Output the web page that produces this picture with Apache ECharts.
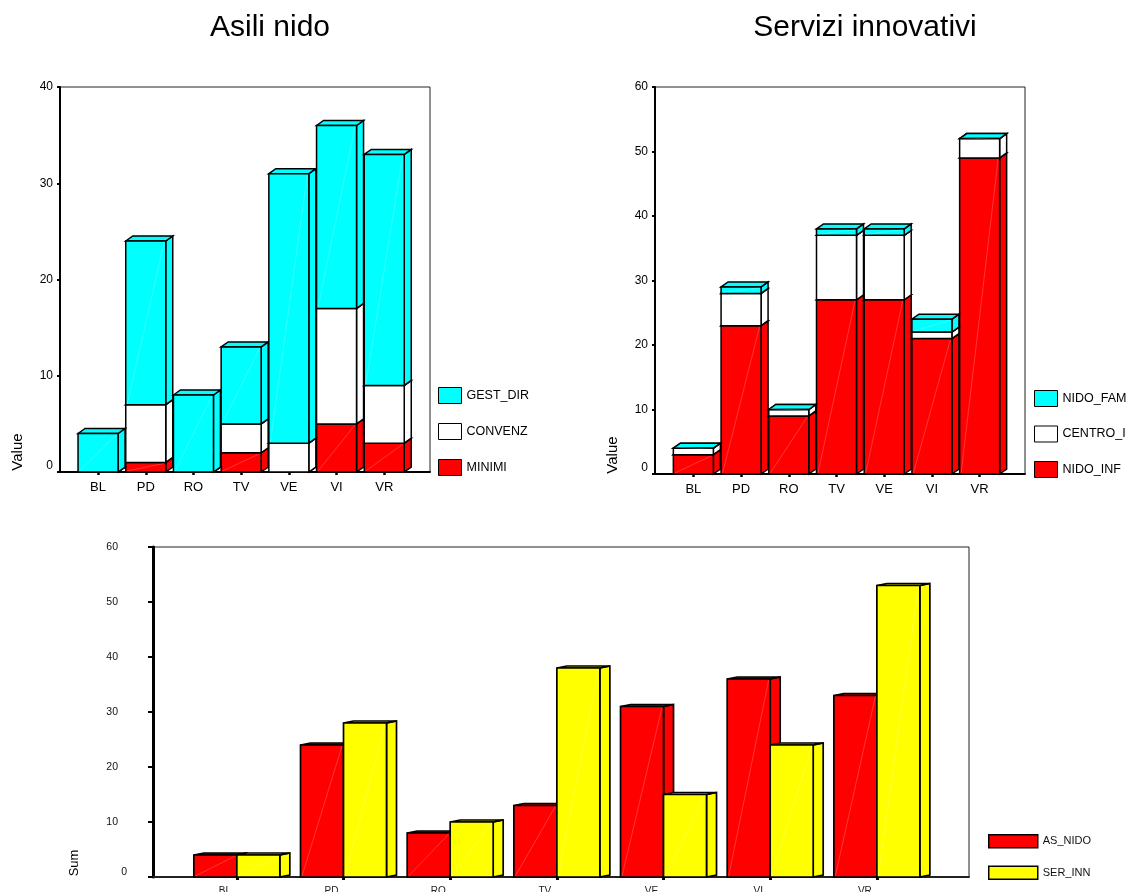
<!DOCTYPE html>
<html>
<head>
<meta charset="utf-8">
<script src="https://cdn.jsdelivr.net/npm/echarts@6/dist/echarts.min.js"></script>
<style>
html,body{margin:0;padding:0;background:#fff;}
#chart{width:1128px;height:892px;}
</style>
</head>
<body>
<div id="chart"></div>
<script>
// ---- data ----
const categories = ['BL', 'PD', 'RO', 'TV', 'VE', 'VI', 'VR'];

// Asili nido (stacked)
const asiliMinimi   = [0, 1, 0, 2, 0, 5, 3];
const asiliConvenz  = [0, 6, 0, 3, 3, 12, 6];
const asiliGestDir  = [4, 17, 8, 8, 28, 19, 24];

// Servizi innovativi (stacked)
const servNidoInf   = [3, 23, 9, 27, 27, 21, 49];
const servCentroI   = [1, 5, 1, 10, 10, 1, 3];
const servNidoFam   = [0, 1, 0, 1, 1, 2, 0];

// Sum chart (grouped)
const sumAsNido     = [4, 24, 8, 13, 31, 36, 33];
const sumSerInn     = [4, 28, 10, 38, 15, 24, 53];

const topTicks1 = [0, 10, 20, 30, 40];
const topTicks2 = [0, 10, 20, 30, 40, 50, 60];

// ---- helpers ----
const FONT = "'Liberation Sans', Arial, Helvetica, sans-serif";

function stackLayers(layers) {
  const base = categories.map(() => 0);
  return layers.map(layer => layer.map((v, i) => {
    const item = [i, base[i], base[i] + v];
    base[i] += v;
    return item;
  }));
}

function make3D(o) {
  return function (params, api) {
    const ci = api.value(0), b = api.value(1), t = api.value(2);
    const pb = api.coord([ci, b]), pt = api.coord([ci, t]);
    const cx = pb[0] + o.off;
    const xl = cx - o.w / 2, xr = cx + o.w / 2;
    const yb = pb[1], yt = pt[1];
    const color = api.visual('color');
    const st = () => ({ fill: color, stroke: '#000', lineWidth: o.lw, lineJoin: 'miter' });
    return {
      type: 'group',
      children: [
        { type: 'polygon', shape: { points: [[xr, yb], [xr + o.dx, yb - o.dy], [xr + o.dx, yt - o.dy], [xr, yt]] }, style: st() },
        { type: 'polygon', shape: { points: [[xl, yt], [xl + o.dx, yt - o.dy], [xr + o.dx, yt - o.dy], [xr, yt]] }, style: st() },
        { type: 'rect', shape: { x: xl, y: yt, width: o.w, height: yb - yt }, style: st() },
        { type: 'line', silent: true, shape: { x1: xl + 1.5, y1: yb - 1, x2: xr - 1.5, y2: yt + 1 },
          style: { stroke: 'rgba(255,255,255,0.3)', lineWidth: 0.7 } }
      ]
    };
  };
}

function frameX(gi) {
  return { gridIndex: gi, type: 'value', min: 0, max: 1,
    axisLine: { show: true, lineStyle: { color: '#000', width: 2 } },
    axisTick: { show: false }, axisLabel: { show: false }, splitLine: { show: false } };
}
function catX(gi, fs, margin, extra) {
  return Object.assign({ gridIndex: gi, type: 'category', data: categories, boundaryGap: true,
    axisLine: { show: false },
    axisTick: { show: true, alignWithLabel: true, length: 3, lineStyle: { color: '#000', width: 2.5 } },
    axisLabel: { fontSize: fs, margin: margin, color: '#000', fontFamily: FONT, interval: 0 },
    splitLine: { show: false } }, extra || {});
}
function valY(gi, max, ticks, lab, lineW, tickLen) {
  return { gridIndex: gi, type: 'value', min: 0, max: max, interval: ticks[1] - ticks[0],
    axisLine: { show: true, lineStyle: { color: '#000', width: lineW } },
    axisTick: { show: true, length: tickLen, lineStyle: { color: '#000', width: 2 } },
    axisLabel: lab, splitLine: { show: false } };
}
function hidY(gi, max) {
  return { gridIndex: gi, type: 'value', min: 0, max: max, show: false, splitLine: { show: false } };
}

const tl = stackLayers([asiliMinimi, asiliConvenz, asiliGestDir]);
const tr = stackLayers([servNidoInf, servCentroI, servNidoFam]);

const topOpt = { dx: 7, dy: 5, w: 40, off: 0, lw: 1.5 };
const botOptA = { dx: 10, dy: 2, w: 43, off: -21.5, lw: 1.7 };
const botOptB = { dx: 10, dy: 2, w: 43, off: 21.5, lw: 1.7 };

const CYAN = '#00FFFF', WHITE = '#FFFFFF', RED = '#FF0000', YELLOW = '#FFFF00';

function cust(name, xi, color, data, opt) {
  return { type: 'custom', name: name, xAxisIndex: xi, yAxisIndex: xi,
    itemStyle: { color: color, borderColor: '#000', borderWidth: 1 },
    encode: { x: 0, y: [1, 2] }, data: data, renderItem: make3D(opt), silent: true };
}

const topLabel = {
  fontSize: 12, color: '#000', margin: 7, fontFamily: FONT,
  formatter: v => v === 0 ? '{z|0}' : String(v),
  rich: { z: { fontSize: 12, fontFamily: FONT, color: '#000', padding: [0, 0, 12, 0] } }
};
const botLabel = {
  fontSize: 10.5, color: '#111', margin: 26, fontFamily: FONT,
  formatter: v => v === 0 ? '{z|0}' : '{a|' + v + '}',
  rich: {
    z: { fontSize: 10.5, fontFamily: FONT, color: '#111', padding: [0, 0, 10, 0] },
    a: { fontSize: 10.5, fontFamily: FONT, color: '#111', padding: [0, 9, 0, 0] }
  }
};

const frameGrid = { show: true, borderColor: '#222', borderWidth: 1, backgroundColor: 'transparent', outerBoundsMode: 'none', containLabel: false };
const plainGrid = { outerBoundsMode: 'none', containLabel: false };

const option = {
  animation: false,
  backgroundColor: '#fff',
  textStyle: { fontFamily: FONT },
  grid: [
    Object.assign({ left: 60, top: 87, width: 370, height: 385 }, frameGrid),
    Object.assign({ left: 74.2, top: 87, width: 333.9, height: 385 }, plainGrid),
    Object.assign({ left: 655, top: 87, width: 370, height: 387 }, frameGrid),
    Object.assign({ left: 669.5, top: 87, width: 334, height: 387 }, plainGrid),
    Object.assign({ left: 153, top: 547, width: 816, height: 330 }, frameGrid),
    Object.assign({ left: 183.5, top: 547, width: 746.7, height: 330 }, plainGrid)
  ],
  xAxis: [
    frameX(0),
    catX(1, 13, 9),
    frameX(2),
    catX(3, 13, 9),
    Object.assign(frameX(4), { axisLine: { show: true, lineStyle: { color: '#222', width: 2 } } }),
    catX(5, 10, 9, { axisLabel: { fontSize: 10, margin: 9, color: '#222', fontFamily: FONT, interval: 0, padding: [0, 24, 0, 0] },
                     axisTick: { show: true, alignWithLabel: true, length: 3, lineStyle: { color: '#000', width: 3 } } })
  ],
  yAxis: [
    valY(0, 40, topTicks1, topLabel, 2, 3),
    hidY(1, 40),
    valY(2, 60, topTicks2, topLabel, 2, 3),
    hidY(3, 60),
    valY(4, 60, topTicks2, botLabel, 3, 5),
    hidY(5, 60)
  ],
  legend: [
    { data: ['GEST_DIR', 'CONVENZ', 'MINIMI'], orient: 'vertical', left: 438, top: 387, padding: 0,
      itemWidth: 23, itemHeight: 16, itemGap: 19, icon: 'rect', selectedMode: false,
      itemStyle: { borderColor: '#000', borderWidth: 1 },
      textStyle: { fontSize: 12.5, color: '#000', fontFamily: FONT } },
    { data: ['NIDO_FAM', 'CENTRO_I', 'NIDO_INF'], orient: 'vertical', left: 1034, top: 390, padding: 0,
      itemWidth: 23, itemHeight: 16, itemGap: 18.5, icon: 'rect', selectedMode: false,
      itemStyle: { borderColor: '#000', borderWidth: 1 },
      textStyle: { fontSize: 12.5, color: '#000', fontFamily: FONT } },
    { data: ['AS_NIDO', 'SER_INN'], orient: 'vertical', left: 988, top: 834, padding: 0,
      itemWidth: 49, itemHeight: 13, itemGap: 17, icon: 'rect', selectedMode: false,
      itemStyle: { borderColor: '#000', borderWidth: 1.5 },
      textStyle: { fontSize: 11, color: '#111', fontFamily: FONT } }
  ],
  graphic: [
    { type: 'text', x: 270, y: 28, style: { text: 'Asili nido', fontSize: 30, fontFamily: FONT, fill: '#000', align: 'center', verticalAlign: 'middle' } },
    { type: 'text', x: 865, y: 28, style: { text: 'Servizi innovativi', fontSize: 30, fontFamily: FONT, fill: '#000', align: 'center', verticalAlign: 'middle' } },
    { type: 'text', x: 18, y: 452, rotation: Math.PI / 2, style: { text: 'Value', fontSize: 15, fontFamily: FONT, fill: '#000', align: 'center', verticalAlign: 'middle' } },
    { type: 'text', x: 613, y: 455, rotation: Math.PI / 2, style: { text: 'Value', fontSize: 15, fontFamily: FONT, fill: '#000', align: 'center', verticalAlign: 'middle' } },
    { type: 'text', x: 74, y: 863, rotation: Math.PI / 2, style: { text: 'Sum', fontSize: 13, fontFamily: FONT, fill: '#000', align: 'center', verticalAlign: 'middle' } }
  ],
  series: [
    cust('MINIMI', 1, RED, tl[0], topOpt),
    cust('CONVENZ', 1, WHITE, tl[1], topOpt),
    cust('GEST_DIR', 1, CYAN, tl[2], topOpt),
    cust('NIDO_INF', 3, RED, tr[0], topOpt),
    cust('CENTRO_I', 3, WHITE, tr[1], topOpt),
    cust('NIDO_FAM', 3, CYAN, tr[2], topOpt),
    cust('AS_NIDO', 5, RED, sumAsNido.map((v, i) => [i, 0, v]), botOptA),
    cust('SER_INN', 5, YELLOW, sumSerInn.map((v, i) => [i, 0, v]), botOptB)
  ]
};

const chart = echarts.init(document.getElementById('chart'), null, { renderer: 'canvas' });
chart.setOption(option);
</script>
</body>
</html>
